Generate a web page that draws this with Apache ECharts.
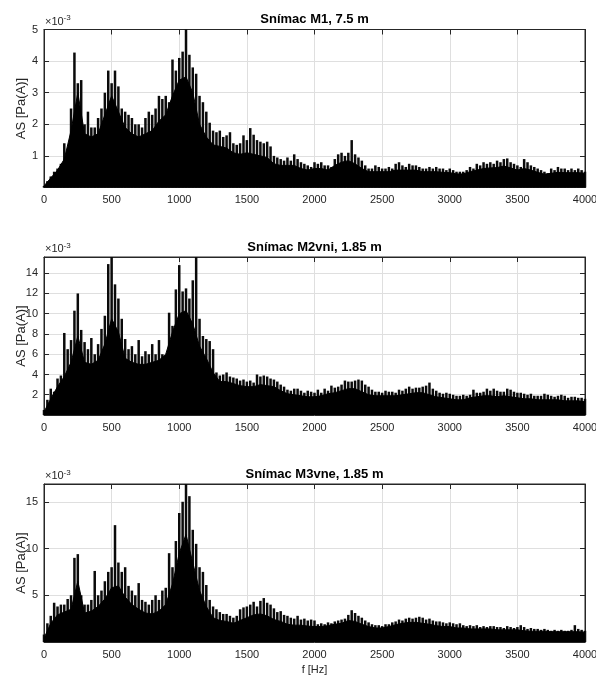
<!DOCTYPE html>
<html><head><meta charset="utf-8">
<script src="https://cdn.jsdelivr.net/npm/echarts@6/dist/echarts.min.js"></script>
<style>html,body{margin:0;padding:0;background:#fff}#c{width:596px;height:675px}</style>
</head><body><div id="c"></div><script>
// ---- data (amplitudes in units of 1e-3 Pa(A)) ----
const titles = ['Snímac M1, 7.5 m', 'Snímac M2vni, 1.85 m', 'Snímac M3vne, 1.85 m'];
const xTickValues = [0, 500, 1000, 1500, 2000, 2500, 3000, 3500, 4000];
const yMaxes = [5, 15.6, 16.9];
const yIntervals = [1, 2, 5];
const peakStep = 25;   // Hz between peak readings
const bodyStep = 50;   // Hz between body-level readings

// highest spike in each 25 Hz slot, 0..4000 Hz
const peaks1 = [
 0.05,0.2,0.35,0.5,0.6,0.75,1.4,1.2,
 2.5,4.27,3.3,3.4,2.0,2.4,1.9,1.9,
 2.2,2.5,3.0,3.7,3.3,3.7,3.2,2.5,
 2.4,2.3,2.2,2.0,2.0,1.9,2.2,2.4,
 2.3,2.5,2.9,2.8,2.9,2.7,4.05,3.7,
 4.1,4.3,5.0,4.2,3.8,3.6,2.9,2.7,
 2.4,2.05,1.8,1.75,1.8,1.6,1.65,1.75,
 1.4,1.35,1.4,1.65,1.5,1.88,1.67,1.5,
 1.45,1.4,1.45,1.3,1.0,0.95,0.9,0.85,
 0.95,0.85,1.05,0.9,0.8,0.75,0.7,0.65,
 0.8,0.75,0.8,0.7,0.7,0.65,0.9,1.05,
 1.1,1.0,1.1,1.5,1.05,0.95,0.85,0.7,
 0.6,0.6,0.7,0.65,0.6,0.6,0.65,0.6,
 0.75,0.8,0.7,0.65,0.75,0.7,0.7,0.65,
 0.6,0.6,0.65,0.6,0.65,0.6,0.6,0.55,
 0.6,0.55,0.5,0.5,0.5,0.55,0.65,0.6,
 0.75,0.7,0.8,0.75,0.8,0.75,0.85,0.8,
 0.9,0.92,0.8,0.75,0.7,0.65,0.9,0.8,
 0.7,0.65,0.6,0.55,0.5,0.45,0.6,0.55,
 0.65,0.6,0.6,0.55,0.6,0.55,0.6,0.55,
 0.5];
const peaks2 = [
 0.5,1.5,2.6,2.3,3.6,3.9,8.1,6.5,
 7.4,10.3,12.0,8.4,7.2,6.5,7.6,6.0,
 7.0,8.5,9.8,14.9,15.6,12.9,11.5,9.5,
 7.5,6.5,6.8,6.0,7.4,5.8,6.3,6.0,
 7.0,6.0,7.4,6.0,5.6,10.1,8.8,12.4,
 14.8,12.2,12.5,11.5,13.3,15.6,9.5,7.8,
 7.5,7.3,6.5,4.2,3.9,4.0,4.2,3.8,
 3.7,3.6,3.4,3.5,3.3,3.4,3.2,4.0,
 3.8,3.9,3.8,3.6,3.5,3.3,3.0,2.8,
 2.5,2.4,2.6,2.6,2.4,2.2,2.4,2.3,
 2.2,2.5,2.2,2.6,2.4,2.9,2.7,2.8,
 3.0,3.4,3.3,3.3,3.4,3.5,3.4,3.0,
 2.8,2.5,2.3,2.3,2.2,2.4,2.3,2.3,
 2.2,2.5,2.4,2.6,2.8,2.6,2.7,2.7,
 2.8,2.9,3.2,2.6,2.4,2.2,2.1,2.2,
 2.1,2.0,1.9,1.9,2.0,1.9,2.0,2.5,
 2.2,2.2,2.3,2.6,2.4,2.6,2.4,2.3,
 2.3,2.6,2.5,2.3,2.2,2.2,2.1,2.0,
 2.1,1.9,1.9,1.9,2.1,2.0,1.9,1.8,
 1.9,2.0,1.9,1.7,1.8,1.8,1.7,1.7,
 1.6];
const peaks3 = [
 0.8,2.0,2.8,4.2,3.8,4.0,4.0,4.6,
 5.0,9.0,9.4,5.0,4.0,4.0,4.5,7.6,
 5.0,5.5,6.5,7.5,8.0,12.5,8.5,7.5,
 8.0,6.0,5.5,5.0,6.3,4.5,4.3,4.0,
 4.5,5.0,4.5,5.5,5.8,9.5,8.0,10.8,
 13.8,15.0,16.9,15.6,12.0,10.5,8.0,7.5,
 6.1,4.5,3.8,3.5,3.2,3.0,3.0,2.8,
 2.6,2.8,3.5,3.7,3.8,4.0,4.3,3.8,
 4.4,4.7,4.2,4.0,3.6,3.2,3.3,2.9,
 2.8,2.6,2.5,2.8,2.4,2.5,2.3,2.4,
 2.3,1.9,2.0,1.9,2.1,2.0,2.2,2.3,
 2.4,2.5,2.9,3.4,3.1,2.8,2.6,2.3,
 2.1,1.9,1.8,1.8,1.7,1.9,1.9,2.1,
 2.2,2.4,2.3,2.5,2.6,2.5,2.6,2.7,
 2.6,2.4,2.5,2.3,2.2,2.2,2.1,2.0,
 2.1,2.0,1.9,2.0,1.8,1.7,1.8,1.7,
 1.8,1.6,1.7,1.6,1.7,1.7,1.6,1.6,
 1.5,1.7,1.6,1.5,1.6,1.8,1.6,1.4,
 1.5,1.4,1.4,1.3,1.4,1.3,1.2,1.3,
 1.2,1.3,1.2,1.2,1.3,1.8,1.4,1.3,
 1.2];

// level up to which the spectrum looks nearly solid black, every 50 Hz, 0..4000 Hz
const body1 = [
 0.05,0.3,0.55,0.9,1.8,3.0,1.7,1.6,1.7,2.3,
 2.9,2.4,1.9,1.7,1.6,1.7,1.8,2.1,2.3,2.9,
 3.4,3.5,3.0,2.0,1.6,1.35,1.3,1.25,1.1,1.05,
 1.1,1.05,1.0,0.95,0.75,0.7,0.7,0.7,0.6,0.55,
 0.6,0.6,0.55,0.7,0.8,0.85,0.75,0.6,0.5,0.5,
 0.5,0.5,0.55,0.55,0.55,0.55,0.5,0.5,0.5,0.48,
 0.47,0.43,0.43,0.5,0.55,0.6,0.62,0.63,0.68,0.62,
 0.55,0.6,0.55,0.48,0.42,0.45,0.48,0.47,0.47,0.47,
 0.45];
const body2 = [
 0.3,1.6,2.8,3.8,5.2,7.8,5.2,5.0,5.4,7.0,
 9.5,8.2,5.6,5.2,5.0,5.0,5.2,5.4,6.0,8.2,
 10.0,10.3,9.0,6.8,5.6,4.2,3.3,3.3,3.1,2.9,
 2.8,2.8,3.0,2.9,2.8,2.4,2.1,2.0,1.9,1.8,
 1.8,1.9,2.1,2.2,2.4,2.6,2.6,2.3,2.0,1.9,
 1.9,1.9,1.9,2.0,2.1,2.2,2.2,2.0,1.8,1.7,
 1.6,1.5,1.5,1.7,1.8,1.9,1.9,1.8,1.9,1.8,
 1.7,1.6,1.6,1.5,1.5,1.5,1.5,1.4,1.4,1.4,
 1.3];
const body3 = [
 0.4,2.0,2.9,3.2,3.5,6.5,3.1,3.3,3.8,4.6,
 5.8,6.0,4.8,4.0,3.5,3.1,3.0,3.3,4.0,6.2,
 9.5,11.5,8.5,5.5,3.8,2.6,2.3,2.2,2.0,2.3,
 2.6,2.9,3.0,2.8,2.4,2.2,1.9,1.8,1.8,1.7,
 1.65,1.65,1.75,1.9,2.0,2.3,2.2,1.9,1.65,1.5,
 1.5,1.65,1.85,2.0,2.1,2.1,2.0,1.9,1.75,1.65,
 1.65,1.5,1.5,1.4,1.4,1.4,1.4,1.3,1.3,1.3,
 1.3,1.2,1.15,1.15,1.15,1.1,1.1,1.1,1.1,1.1,
 1.05];

const peaks = [peaks1, peaks2, peaks3];
const bodies = [body1, body2, body3];

// ---- layout / style ----
const FONT = "'Liberation Sans', Arial, Helvetica, sans-serif";
const INK = '#262626';
const GRID_LEFT = 44, GRID_RIGHT = 11, GRID_H = 158;
const tops = [29.5, 257, 484];

const grids = [], xAxes = [], yAxes = [], series = [], graphic = [];
for (let i = 0; i < 3; i++) {
  grids.push({left: GRID_LEFT, right: GRID_RIGHT, top: tops[i], height: GRID_H,
    containLabel: false, outerBoundsMode: 'none',
    show: true, borderColor: INK, borderWidth: 1, backgroundColor: '#fff'});
  const xBase = {gridIndex: i, type: 'value', min: xTickValues[0], max: xTickValues[xTickValues.length-1],
    interval: xTickValues[1]-xTickValues[0],
    axisLine: {show: true, onZero: false, lineStyle: {color: INK, width: 1}},
    axisTick: {show: true, inside: true, length: 5, lineStyle: {color: INK}}};
  xAxes.push(Object.assign({}, xBase, {position: 'bottom',
    axisLabel: {color: INK, fontSize: 11, fontFamily: FONT, margin: 7, formatter: v => String(v)},
    splitLine: {show: true, lineStyle: {color: '#dfdfdf', width: 1}},
    name: i === 2 ? 'f [Hz]' : '', nameLocation: 'middle', nameGap: 22, nameMoveOverlap: false,
    nameTextStyle: {color: INK, fontSize: 11, fontFamily: FONT}}));
  xAxes.push(Object.assign({}, xBase, {position: 'top', axisLabel: {show: false}, splitLine: {show: false}}));
  const iv = yIntervals[i];
  const yBase = {gridIndex: i, type: 'value', min: 0, max: yMaxes[i], interval: iv,
    axisLine: {show: true, onZero: false, lineStyle: {color: INK, width: 1}},
    axisTick: {show: true, inside: true, length: 5, lineStyle: {color: INK}}};
  yAxes.push(Object.assign({}, yBase, {position: 'left',
    axisLabel: {color: INK, fontSize: 11, fontFamily: FONT, margin: 6,
      formatter: v => (v > 0 && Math.abs(v / iv - Math.round(v / iv)) < 1e-6) ? String(v) : ''},
    splitLine: {show: true, lineStyle: {color: '#dfdfdf', width: 1}},
    name: 'AS [Pa(A)]', nameLocation: 'middle', nameGap: 16, nameMoveOverlap: false,
    nameTextStyle: {color: INK, fontSize: 13, fontFamily: FONT}}));
  yAxes.push(Object.assign({}, yBase, {position: 'right', axisLabel: {show: false}, splitLine: {show: false}}));

  series.push({type: 'line', xAxisIndex: 2*i, yAxisIndex: 2*i, symbol: 'none', silent: true,
    data: bodies[i].map((v, k) => [k * bodyStep, v]),
    lineStyle: {color: '#000', width: 1}, areaStyle: {color: '#000', opacity: 1}, z: 3});
  series.push({type: 'bar', xAxisIndex: 2*i, yAxisIndex: 2*i, silent: true, barWidth: 2.5,
    data: peaks[i].map((v, k) => [k * peakStep, v]),
    itemStyle: {color: '#0a0a0a'}, z: 2});

  graphic.push({type: 'text', x: GRID_LEFT + (596 - GRID_LEFT - GRID_RIGHT) / 2, y: tops[i] - 10,
    style: {text: titles[i], fill: '#000', font: 'bold 13px ' + FONT, textAlign: 'center', textVerticalAlign: 'middle'}});
  graphic.push({type: 'text', x: GRID_LEFT + 1, y: tops[i] - 2.5,
    style: {text: '×10', fill: INK, font: '11px ' + FONT, textAlign: 'left', textVerticalAlign: 'bottom'}});
  graphic.push({type: 'text', x: GRID_LEFT + 19.5, y: tops[i] - 7.5,
    style: {text: '-3', fill: INK, font: '8px ' + FONT, textAlign: 'left', textVerticalAlign: 'bottom'}});
}

const chart = echarts.init(document.getElementById('c'), null, {renderer: 'canvas'});
chart.setOption({animation: false, backgroundColor: '#fff', grid: grids, xAxis: xAxes, yAxis: yAxes, series, graphic});
</script></body></html>
